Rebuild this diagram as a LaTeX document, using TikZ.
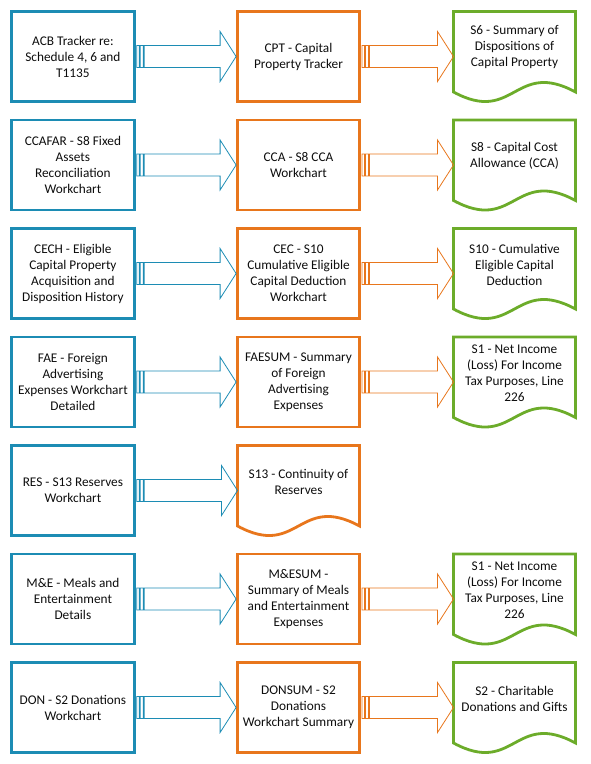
\documentclass[tikz,border=0pt]{standalone}
\usepackage{fontspec}
\setmainfont{Carlito}
\usetikzlibrary{calc}
\definecolor{srcblue}{RGB}{28,140,180}
\definecolor{wcorange}{RGB}{232,118,28}
\definecolor{formgreen}{RGB}{108,172,42}
\tikzset{
  every picture/.style={line width=0.75pt},
  txt/.style={align=center, text=black!95, font=\fontsize{13.3}{16}\selectfont},
  srcbox/.style={txt, draw=srcblue, line width=2.8pt, minimum width=123pt, minimum height=90pt, inner sep=1pt},
  wcbox/.style={txt, draw=wcorange, line width=2.8pt, minimum width=122pt, minimum height=90pt, inner sep=1pt},
  docbox/.style={txt, minimum width=122pt, minimum height=72pt, inner sep=0pt, outer sep=0pt},
  arrowline/.style={line width=0.8pt},
}
% document shape with wavy bottom, drawn round a docbox node
\newcommand{\docoutline}[2]{%
  \draw[#1, line width=2.8pt, line join=miter]
    (#2.north west) -- (#2.north east) -- ($(#2.south east)+(0,-8.5)$)
    .. controls ($(#2.south)+(0,24.5)$) and ($(#2.south)+(0,-41.5)$) ..
    ($(#2.south west)+(0,-8.5)$) -- cycle;}
% striped block arrow from the east side of one node to the west side of another
\newcommand{\stripedarrow}[3]{%
  \draw[arrowline, #1] let \p1=(#2.east), \p2=(#3.west) in
    (\x1+1pt,\y1-11pt) rectangle (\x1+3.5pt,\y1+11pt)
    (\x1+4.5pt,\y1-11pt) rectangle (\x1+7.5pt,\y1+11pt)
    (\x1+8.5pt,\y1+11pt) -- (\x2-16pt,\y1+11pt) -- (\x2-16pt,\y1+25pt) -- (\x2,\y1)
    -- (\x2-16pt,\y1-25pt) -- (\x2-16pt,\y1-11pt) -- (\x1+8.5pt,\y1-11pt) -- cycle;}

\begin{document}
\begin{tikzpicture}[x=1pt, y=1pt]
    \useasboundingbox (0,0) rectangle (590,-764);

    % Row 1
    \node[srcbox] (acb) at (72.9,-56.5) {ACB Tracker re:\\Schedule 4, 6 and\\T1135};
    \node[wcbox] (cpt) at (298.5,-56.5) {CPT - Capital\\Property Tracker};
    \node[docbox] (s6) at (514.5,-47.5) {S6 - Summary of\\Dispositions of\\Capital Property};
    \docoutline{formgreen}{s6}
    \stripedarrow{srcblue}{acb}{cpt}
    \stripedarrow{wcorange}{cpt}{s6}

    % Row 2
    \node[srcbox] (ccafar) at (72.9,-165) {CCAFAR - S8 Fixed\\Assets\\Reconciliation\\Workchart};
    \node[wcbox] (cca) at (298.5,-165) {CCA - S8 CCA\\Workchart};
    \node[docbox] (s8) at (514.5,-156) {S8 - Capital Cost\\Allowance (CCA)};
    \docoutline{formgreen}{s8}
    \stripedarrow{srcblue}{ccafar}{cca}
    \stripedarrow{wcorange}{cca}{s8}

    % Row 3
    \node[srcbox] (cech) at (72.9,-273.5) {CECH - Eligible\\Capital Property\\Acquisition and\\Disposition History};
    \node[wcbox] (cec) at (298.5,-273.5) {CEC - S10\\Cumulative Eligible\\Capital Deduction\\Workchart};
    \node[docbox] (s10) at (514.5,-264.5) {S10 - Cumulative\\Eligible Capital\\Deduction};
    \docoutline{formgreen}{s10}
    \stripedarrow{srcblue}{cech}{cec}
    \stripedarrow{wcorange}{cec}{s10}

    % Row 4
    \node[srcbox] (fae) at (72.9,-382) {FAE - Foreign\\Advertising\\Expenses Workchart\\Detailed};
    \node[wcbox] (faesum) at (298.5,-382) {FAESUM - Summary\\of Foreign\\Advertising\\Expenses};
    \node[docbox] (s1a) at (514.5,-373) {S1 - Net Income\\(Loss) For Income\\Tax Purposes, Line\\226};
    \docoutline{formgreen}{s1a}
    \stripedarrow{srcblue}{fae}{faesum}
    \stripedarrow{wcorange}{faesum}{s1a}

    % Row 5
    \node[srcbox] (res) at (72.9,-490.5) {RES - S13 Reserves\\Workchart};
    \node[docbox] (s13) at (298.5,-481.5) {S13 - Continuity of\\Reserves};
    \docoutline{wcorange}{s13}
    \stripedarrow{srcblue}{res}{s13}

    % Row 6
    \node[srcbox] (me) at (72.9,-599) {M\&E - Meals and\\Entertainment\\Details};
    \node[wcbox] (mesum) at (298.5,-599) {M\&ESUM -\\Summary of Meals\\and Entertainment\\Expenses};
    \node[docbox] (s1b) at (514.5,-590) {S1 - Net Income\\(Loss) For Income\\Tax Purposes, Line\\226};
    \docoutline{formgreen}{s1b}
    \stripedarrow{srcblue}{me}{mesum}
    \stripedarrow{wcorange}{mesum}{s1b}

    % Row 7
    \node[srcbox] (don) at (72.9,-707.5) {DON - S2 Donations\\Workchart};
    \node[wcbox] (donsum) at (298.5,-707.5) {DONSUM - S2\\Donations\\Workchart Summary};
    \node[docbox] (s2) at (514.5,-698.5) {S2 - Charitable\\Donations and Gifts};
    \docoutline{formgreen}{s2}
    \stripedarrow{srcblue}{don}{donsum}
    \stripedarrow{wcorange}{donsum}{s2}
\end{tikzpicture}
\end{document}
